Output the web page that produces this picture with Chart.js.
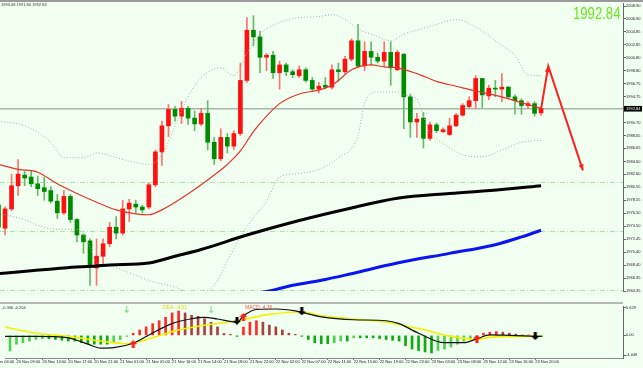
<!DOCTYPE html>
<html><head><meta charset="utf-8">
<script src="https://cdn.jsdelivr.net/npm/chart.js@4.4.1/dist/chart.umd.min.js"></script>
<style>
html,body{margin:0;padding:0;}
body{width:643px;height:368px;overflow:hidden;position:relative;background:#f0fff0;font-family:"Liberation Sans",Arial,sans-serif;}
canvas{position:absolute;left:0;}
#c1{top:0}
#c2{top:301px}
.lbl{position:absolute;white-space:nowrap;line-height:1;}
</style></head><body>
<canvas id="c1" width="643" height="306"></canvas>
<canvas id="c2" width="643" height="67"></canvas>
<div style="position:absolute;left:0;top:0;width:643px;height:2px;background:#9a9a9a"></div>
<div style="position:absolute;left:0;top:302px;width:623px;height:2px;background:#b4b8b4"></div>
<div class="lbl" style="left:1px;top:3px;font-size:4px;color:#333">1993.08 1991.80 1992.84</div>
<div class="lbl" style="left:573px;top:6px;font-size:16px;color:#6ae624;transform-origin:0 0;transform:scaleX(0.82)">1992.84</div>
<div class="lbl" style="left:2px;top:306px;font-size:4px;color:#333">-0.306 -0.204</div>
<div class="lbl" style="left:163px;top:305px;font-size:5px;color:#e0e000">DEA &nbsp; 4.31</div>
<div class="lbl" style="left:245px;top:305px;font-size:5px;color:#ff5050">MACD &nbsp;4.36</div>
<script>
// ---------- DATA ----------
const currentPrice = 1992.84;
const levelLines = [1981.40, 1973.70, 1964.50];
const yTicks = [2008.90,2006.90,2004.85,2002.85,2000.80,1998.80,1996.75,1994.75,1992.70,1990.70,1988.65,1986.65,1984.60,1982.60,1980.55,1978.55,1976.50,1974.50,1972.45,1970.40,1968.40,1966.35,1964.35];
const xTickBars = [-2,2,6,10,14,18,22,26,30,34,38,42,46,50,54,58,62,66,70,74,78,82];
const xTickLabels = ["20 Nov 04:00","20 Nov 09:00","20 Nov 13:00","20 Nov 17:00","20 Nov 21:00","21 Nov 01:00","21 Nov 05:00","21 Nov 10:00","21 Nov 14:00","21 Nov 18:00","21 Nov 22:00","22 Nov 02:00","22 Nov 07:00","22 Nov 11:00","22 Nov 15:00","22 Nov 19:00","22 Nov 23:00","23 Nov 03:00","23 Nov 08:00","23 Nov 12:00","23 Nov 16:00","23 Nov 20:00"];

const open  = [1977.78,1974.16,1977.18,1980.80,1982.47,1982.17,1981.11,1980.50,1980.05,1978.39,1976.57,1979.14,1975.52,1973.10,1972.19,1967.96,1969.78,1971.74,1974.31,1973.40,1977.18,1977.93,1977.48,1977.48,1980.95,1986.09,1990.17,1992.74,1991.68,1992.89,1991.38,1990.47,1992.13,1987.60,1985.03,1988.36,1987.00,1988.96,1997.27,2005.12,2004.07,2000.89,2001.20,1998.48,1999.69,1998.63,1998.02,1998.93,1997.27,1995.91,1996.51,1996.21,1998.93,1998.63,2000.59,2003.46,1999.53,2001.80,2000.89,2000.29,2001.65,1998.93,2001.35,1994.70,1990.77,1991.38,1988.21,1990.32,1989.26,1988.81,1990.17,1991.83,1993.19,1994.10,1997.57,1994.85,1996.06,1995.91,1996.21,1994.70,1994.10,1993.34,1993.64,1992.20];
const high  = [1978.84,1977.50,1982.62,1984.90,1983.07,1983.07,1982.32,1982.17,1980.65,1979.44,1980.05,1979.44,1975.67,1973.25,1972.49,1972.49,1972.49,1975.06,1975.97,1978.54,1978.69,1978.54,1977.78,1981.26,1986.39,1990.92,1993.50,1993.20,1994.00,1993.20,1992.50,1992.90,1994.10,1988.36,1989.72,1988.96,1989.41,1999.99,2007.09,2007.39,2004.97,2001.50,2001.80,2000.29,1999.99,1998.93,1999.54,1999.23,1997.72,1996.97,1997.72,1999.69,1999.99,2001.05,2003.76,2006.03,2003.31,2003.31,2001.50,2003.31,2003.31,2001.95,2001.50,1995.15,1992.13,1992.28,1990.77,1990.62,1989.87,1991.38,1992.13,1993.64,1994.70,1998.02,1997.57,1996.51,1997.27,1998.33,1996.36,1995.00,1994.40,1993.95,1993.95,1993.08];
const low   = [1973.10,1973.10,1976.90,1979.29,1980.80,1980.65,1979.29,1978.54,1978.08,1975.68,1976.27,1975.06,1972.04,1970.23,1965.24,1965.24,1968.57,1971.28,1972.49,1973.10,1975.20,1976.57,1976.57,1977.18,1980.65,1984.00,1988.50,1990.90,1990.50,1990.40,1989.40,1990.20,1986.39,1984.13,1984.70,1985.94,1986.50,1988.66,1996.97,2002.71,1998.48,1998.78,1997.57,1995.91,1998.02,1997.72,1997.72,1996.97,1995.61,1995.30,1995.91,1995.91,1997.12,1998.30,2000.29,1999.23,1998.78,1999.69,1999.99,1999.53,1996.51,1998.78,1989.72,1988.36,1988.36,1986.69,1987.90,1989.11,1989.11,1988.66,1990.02,1991.68,1992.89,1992.89,1993.04,1994.25,1994.70,1993.95,1994.40,1991.98,1991.98,1992.89,1991.68,1991.80];
const close = [1974.31,1977.18,1980.80,1982.62,1982.01,1981.11,1980.35,1979.90,1978.39,1976.57,1979.14,1975.52,1973.10,1972.04,1968.27,1969.78,1971.74,1974.31,1973.40,1977.18,1978.08,1977.48,1977.03,1980.95,1986.09,1990.17,1992.74,1991.68,1992.89,1991.38,1990.47,1992.13,1987.60,1985.03,1988.36,1987.00,1988.96,1997.27,2005.12,2004.07,2000.89,2001.20,1998.48,1999.69,1998.63,1998.17,1998.93,1997.27,1995.91,1996.36,1996.21,1998.93,1998.63,2000.59,2003.46,1999.53,2001.80,2000.89,2000.29,2001.65,1999.23,2001.65,1994.70,1990.77,1991.23,1988.21,1990.32,1989.41,1989.56,1990.17,1991.83,1993.34,1994.10,1997.57,1995.00,1996.06,1995.91,1996.21,1994.70,1994.10,1993.34,1993.64,1992.13,1992.84];

const redMAIdx = [0,3,6,9,12,15,18,21,23,25,28,31,33,35,37,39,41,43,46,49,51,52,54,57,59,61,64,67,70,73,77,80,83];
const redMA    = [1984.13,1983.37,1982.92,1981.11,1979.59,1978.23,1977.03,1976.42,1976.27,1977.03,1978.84,1980.95,1982.47,1984.13,1986.24,1989.26,1991.68,1993.64,1995.15,1995.76,1996.51,1997.27,1998.93,1999.69,1999.38,1999.23,1998.33,1997.12,1996.36,1995.61,1994.70,1993.79,1992.89];
const bbUpIdx  = [0,4,8,10,13,15,18,21,23,25,27,29,31,34,36,38,40,43,46,49,51,53,55,57,60,62,64,67,70,73,77,79,81,83];
const bbUp     = [1990.92,1990.17,1987.60,1985.20,1985.20,1985.94,1985.20,1984.43,1984.13,1985.64,1990.17,1994.70,1997.72,1999.23,1998.02,2001.50,2004.52,2006.33,2007.09,2007.24,2007.54,2006.79,2005.27,2004.52,2003.46,2004.52,2005.12,2006.03,2006.79,2005.58,2002.71,2001.20,1998.17,1998.02];
const bbLowIdx = [0,4,6,9,12,14,15,17,20,23,27,30,33,35,37,39,41,43,45,49,52,55,56,58,61,62,64,65,66,68,71,74,77,80,83];
const bbLow    = [1976.50,1975.50,1974.60,1973.99,1973.99,1971.20,1968.72,1968.27,1967.21,1966.00,1964.94,1963.70,1965.24,1969.02,1972.80,1975.80,1978.39,1982.17,1982.62,1983.37,1985.19,1988.66,1993.64,1995.45,1995.45,1995.00,1994.40,1991.68,1989.11,1987.45,1985.64,1985.34,1986.39,1987.60,1987.90];
const blackMAIdx = [0,5,10,15,17,23,27,31,38,46,54,61,69,77,83];
const blackMA    = [1967.07,1967.51,1967.96,1968.27,1968.42,1968.72,1969.78,1970.83,1973.10,1975.37,1977.33,1978.84,1979.59,1980.20,1980.80];
const blueMAIdx = [38,42,45,50,54,61,69,76,80,83];
const blueMA    = [1963.70,1964.49,1965.24,1966.15,1967.06,1968.72,1970.23,1971.59,1972.80,1973.85];
const forecastIdx = [83,84.1,89.4];
const forecast    = [1992.84,1999.50,1983.20];

const macdHist = [-3.4,-3.2,-1.8,-1.5,-1.16,-0.84,-0.7,-0.7,-0.84,-1.0,-1.16,-1.16,-1.5,-1.7,-1.8,-1.8,-1.8,-1.5,-0.84,-0.2,0.45,1.1,1.75,2.4,3.0,3.7,4.6,5.0,4.6,4.1,3.9,3.4,2.7,1.75,0.4,0.2,-0.2,1.7,2.7,3.0,2.7,2.1,1.75,1.1,0.45,0.2,-0.2,-0.84,-1.5,-1.7,-1.7,-1.5,-1.16,-1.16,-0.5,-0.5,-0.5,-0.5,-0.65,-0.84,-1.0,-1.16,-2.1,-2.8,-3.1,-3.4,-3.6,-3.1,-2.8,-2.4,-1.8,-1.16,-0.84,-0.2,0.45,0.65,0.77,0.65,0.45,0.26,0.1,0.1,-0.1,-0.2];
const macdIdx = [0,5,10,13,15,17,20,23,26,29,31,33,36,37,39,42,45,49,54,59,61,64,68,71,73,75,78,83];
const macd    = [-0.2,-0.2,-0.5,-1.8,-2.6,-2.5,-1.6,0.5,2.4,3.4,3.7,3.35,2.7,4.0,5.3,5.4,5.0,3.8,3.2,3.0,2.4,0.45,-1.5,-1.5,-0.7,0.1,0.0,-0.2];
const signalIdx = [0,5,10,15,19,23,26,31,36,41,46,49,54,59,64,69,73,75,80,83];
const signal    = [1.75,0.45,-0.2,-1.16,-1.7,-0.5,0.77,2.06,3.0,4.3,4.8,4.0,3.35,2.7,1.4,-0.2,-0.84,-0.4,-0.2,-0.2];
const upArrowIdx = [20,37,73];
const upArrowVal = [-1.8,3.8,-0.64];
const dnArrowIdx = [36,46,82];
const dnArrowVal = [3.0,4.9,-0.15];
const sigArrowIdx = [19,32];
const sigArrowVal = [5.3,5.2];
const macdTicks = [5.629,0,-4.049];
const macdTickLabels = ["5.629","0.00","-4.049"];

// ---------- CHARTS ----------
Chart.defaults.font.family = "'Liberation Sans', Arial, sans-serif";
const X_MIN = 0.23, X_MAX = 95.53;
const pts = (ix, v) => ix.map((x, k) => ({x, y: v[k]}));
const bars = open.map((o, i) => i);
const upCol = '#ff1010', dnCol = '#008a00';
const bodyColors = bars.map(i => close[i] >= open[i] ? upCol : dnCol);
const wickColors = bars.map(i => close[i] >= open[i] ? '#ff7070' : '#6ab86a');

function axisX(show) {
  return {
    type: 'linear', min: X_MIN, max: X_MAX, display: show, offset: false, bounds: 'data',
    afterBuildTicks: s => { s.ticks = xTickBars.map(v => ({value: v})); },
    afterFit: s => { s.height = 10; s.paddingLeft = 0; s.paddingRight = 0; },
    grid: {drawOnChartArea: false, offset: false, tickLength: 2, color: '#777'},
    border: {color: '#888'},
    ticks: {autoSkip: false, maxRotation: 0, minRotation: 0, align: 'start', padding: 0,
      font: {size: 4, lineHeight: 1}, color: '#222',
      callback: (v, i) => xTickLabels[i]}
  };
}

const mainDecor = {
  id: 'mainDecor',
  beforeDatasetsDraw(chart) {
    const {ctx, chartArea: a, scales: {y}} = chart;
    ctx.save();
    ctx.beginPath(); ctx.rect(a.left, a.top, a.width, a.height); ctx.clip();
    ctx.strokeStyle = '#a6e6a6'; ctx.lineWidth = 1; ctx.setLineDash([5, 2, 1, 2]);
    levelLines.forEach(v => { const py = Math.round(y.getPixelForValue(v)) + 0.5;
      ctx.beginPath(); ctx.moveTo(a.left, py); ctx.lineTo(a.right, py); ctx.stroke(); });
    ctx.setLineDash([]);
    ctx.strokeStyle = 'rgba(165,178,165,0.95)'; ctx.lineWidth = 1.5;
    const py = y.getPixelForValue(currentPrice);
    ctx.beginPath(); ctx.moveTo(a.left, py); ctx.lineTo(a.right, py); ctx.stroke();
    ctx.restore();
  },
  afterDatasetsDraw(chart) {
    const ctx = chart.ctx;
    const idx = chart.data.datasets.findIndex(d => d.label === 'forecast');
    const p = chart.getDatasetMeta(idx).data;
    ctx.save(); ctx.fillStyle = '#ff2020';
    const head = (p0, p1) => {
      const ang = Math.atan2(p1.y - p0.y, p1.x - p0.x), L = 6, W = 2.6;
      const bx = p1.x - L * Math.cos(ang), by = p1.y - L * Math.sin(ang);
      ctx.beginPath(); ctx.moveTo(p1.x, p1.y);
      ctx.lineTo(bx + W * Math.sin(ang), by - W * Math.cos(ang));
      ctx.lineTo(bx - W * Math.sin(ang), by + W * Math.cos(ang));
      ctx.closePath(); ctx.fill();
    };
    head(p[0], p[1]); head(p[1], p[2]);
    ctx.restore();
  },
  afterDraw(chart) {
    const {ctx, chartArea: a, scales: {y}} = chart;
    const py = y.getPixelForValue(currentPrice);
    ctx.save();
    ctx.fillStyle = '#000'; ctx.fillRect(a.right + 1, py - 2.8, 18, 5.6);
    ctx.fillStyle = '#fff'; ctx.font = "4px 'Liberation Sans'"; ctx.textBaseline = 'middle';
    ctx.fillText(currentPrice.toFixed(2), a.right + 3, py + 0.3);
    ctx.restore();
  }
};

new Chart(document.getElementById('c1'), {
  type: 'bar',
  data: {datasets: [
    {type: 'line', label: 'forecast', data: pts(forecastIdx, forecast), borderColor: '#ff2020', borderWidth: 2, pointRadius: 0, tension: 0, order: -5},
    {type: 'line', data: pts(blackMAIdx, blackMA), borderColor: '#000', borderWidth: 3, pointRadius: 0, cubicInterpolationMode: 'monotone', order: -4},
    {type: 'line', data: pts(blueMAIdx, blueMA), borderColor: '#0a14f0', borderWidth: 3, pointRadius: 0, cubicInterpolationMode: 'monotone', order: -4},
    {type: 'line', data: pts(redMAIdx, redMA), borderColor: '#e8302c', borderWidth: 1.2, pointRadius: 0, cubicInterpolationMode: 'monotone', order: -3},
    {type: 'line', data: pts(bbUpIdx, bbUp), borderColor: '#a8aca8', borderWidth: 1, borderDash: [1, 2], pointRadius: 0, cubicInterpolationMode: 'monotone', order: -2},
    {type: 'line', data: pts(bbLowIdx, bbLow), borderColor: '#a8aca8', borderWidth: 1, borderDash: [1, 2], pointRadius: 0, cubicInterpolationMode: 'monotone', order: -2},
    {type: 'bar', data: bars.map(i => ({x: i, y: [open[i], close[i]]})), backgroundColor: bodyColors, barThickness: 4, minBarLength: 1, grouped: false, order: 1},
    {type: 'bar', data: bars.map(i => ({x: i, y: [low[i], high[i]]})), backgroundColor: wickColors, barThickness: 1, grouped: false, order: 2}
  ]},
  options: {
    responsive: false, animation: false, events: [],
    layout: {padding: {top: 3, left: 0, right: 0, bottom: 5}},
    plugins: {legend: {display: false}, tooltip: {enabled: false}},
    scales: {
      x: axisX(false),
      y: {position: 'right', min: 1964.35, max: 2009.37,
        afterBuildTicks: s => { s.ticks = yTicks.map(v => ({value: v})); },
        afterFit: s => { s.width = 20; s.paddingTop = 0; s.paddingBottom = 0; },
        grid: {drawOnChartArea: false, tickLength: 3, color: '#666'},
        border: {color: '#666'},
        ticks: {padding: 0, font: {size: 4, lineHeight: 1}, color: '#222', callback: v => v.toFixed(2)}}
    }
  },
  plugins: [mainDecor]
});

function mkArrow(color, up) {
  const c = document.createElement('canvas'); c.width = 8; c.height = 8;
  const g = c.getContext('2d'); g.fillStyle = color;
  if (!up) { g.translate(0, 8); g.scale(1, -1); }
  g.beginPath(); g.moveTo(4, 0); g.lineTo(8, 4); g.lineTo(5.5, 4); g.lineTo(5.5, 8); g.lineTo(2.5, 8); g.lineTo(2.5, 4); g.lineTo(0, 4); g.closePath(); g.fill();
  return c;
}
function mkThin(color) {
  const c = document.createElement('canvas'); c.width = 5; c.height = 7;
  const g = c.getContext('2d'); g.strokeStyle = color; g.lineWidth = 1;
  g.beginPath(); g.moveTo(2.5, 0); g.lineTo(2.5, 6.5); g.moveTo(0.5, 4); g.lineTo(2.5, 6.5); g.lineTo(4.5, 4); g.stroke();
  return c;
}
const histColors = macdHist.map((v, i) => {
  const prev = i > 0 ? macdHist[i - 1] : v;
  if (v >= 0) return v >= prev ? '#ff2a2a' : '#a84040';
  return v <= prev ? '#12a812' : '#4fd04f';
});

new Chart(document.getElementById('c2'), {
  type: 'bar',
  data: {datasets: [
    {type: 'scatter', data: pts(upArrowIdx, upArrowVal), pointStyle: mkArrow('#ff1a1a', true), order: -5},
    {type: 'scatter', data: pts(dnArrowIdx, dnArrowVal), pointStyle: mkArrow('#000', false), order: -5},
    {type: 'scatter', data: pts(sigArrowIdx, sigArrowVal), pointStyle: mkThin('#7ad67a'), order: -5},
    {type: 'line', data: pts(macdIdx, macd), borderColor: '#111', borderWidth: 1.2, pointRadius: 0, cubicInterpolationMode: 'monotone', order: -3},
    {type: 'line', data: pts(signalIdx, signal), borderColor: '#f2f200', borderWidth: 1.6, pointRadius: 0, cubicInterpolationMode: 'monotone', order: -2},
    {type: 'bar', data: macdHist.map((v, i) => ({x: i, y: v})), backgroundColor: histColors, barThickness: 2, grouped: false, order: 1}
  ]},
  options: {
    responsive: false, animation: false, events: [],
    layout: {padding: {top: 2, left: 0, right: 0, bottom: 0}},
    plugins: {legend: {display: false}, tooltip: {enabled: false}},
    scales: {
      x: axisX(true),
      y: {position: 'right', min: -4.63, max: 6.016,
        afterBuildTicks: s => { s.ticks = macdTicks.map(v => ({value: v})); },
        afterFit: s => { s.width = 20; s.paddingTop = 0; s.paddingBottom = 0; },
        grid: {drawOnChartArea: false, tickLength: 3, color: '#666'},
        border: {color: '#666'},
        ticks: {padding: 0, font: {size: 4, lineHeight: 1}, color: '#222', callback: (v, i) => macdTickLabels[i]}}
    }
  }
});
</script>
</body></html>
